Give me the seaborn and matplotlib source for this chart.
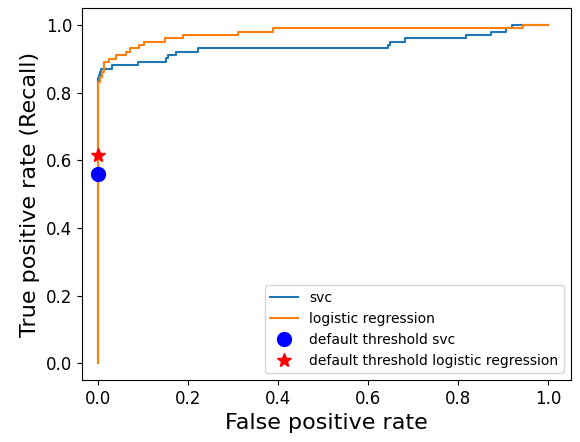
import numpy as np
import matplotlib
matplotlib.use("Agg")
import matplotlib.pyplot as plt
import seaborn as sns

# roc corner points (start of each step level)
svc_fpr = [0, 0, 0.003, 0.005, 0.007, 0.032, 0.090, 0.153, 0.156, 0.173, 0.222,
           0.644, 0.650, 0.683, 0.817, 0.872, 0.906, 0.919, 1.0]
svc_tpr = [0, 0.842, 0.852, 0.861, 0.871, 0.881, 0.891, 0.901, 0.911, 0.921, 0.931,
           0.941, 0.950, 0.960, 0.970, 0.980, 0.990, 1.0, 1.0]

lr_fpr = [0, 0, 0.005, 0.010, 0.015, 0.025, 0.040, 0.064, 0.073, 0.093, 0.103,
          0.149, 0.189, 0.311, 0.389, 0.943, 1.0]
lr_tpr = [0, 0.832, 0.847, 0.861, 0.889, 0.899, 0.911, 0.921, 0.931, 0.940, 0.950,
          0.960, 0.970, 0.980, 0.990, 1.0, 1.0]

# default threshold points
svc_default = (0.0, 0.558)
lr_default = (0.0, 0.615)

fig = plt.figure(figsize=(5.8, 4.42), dpi=100)
ax = fig.add_axes([0.141, 0.140, 0.843, 0.842])

sns.lineplot(x=svc_fpr, y=svc_tpr, sort=False, estimator=None, drawstyle="steps-post",
             color="#1f77b4", label="svc", ax=ax)
sns.lineplot(x=lr_fpr, y=lr_tpr, sort=False, estimator=None, drawstyle="steps-post",
             color="#ff7f0e", label="logistic regression", ax=ax)
ax.plot(svc_default[0], svc_default[1], "o", color="blue", markersize=10,
        label="default threshold svc")
ax.plot(lr_default[0], lr_default[1], "*", color="red", markersize=10,
        label="default threshold logistic regression")

ax.set_xlim(-0.035, 1.05)
ax.set_ylim(-0.05, 1.05)
ax.set_xticks([0, 0.2, 0.4, 0.6, 0.8, 1.0])
ax.set_yticks([0, 0.2, 0.4, 0.6, 0.8, 1.0])
ax.tick_params(labelsize=12)
ax.set_xlabel("False positive rate", fontsize=16)
ax.set_ylabel("True positive rate (Recall)", fontsize=16)
ax.legend(loc="lower right", fontsize=10)

fig.savefig("out.png", dpi=100)
